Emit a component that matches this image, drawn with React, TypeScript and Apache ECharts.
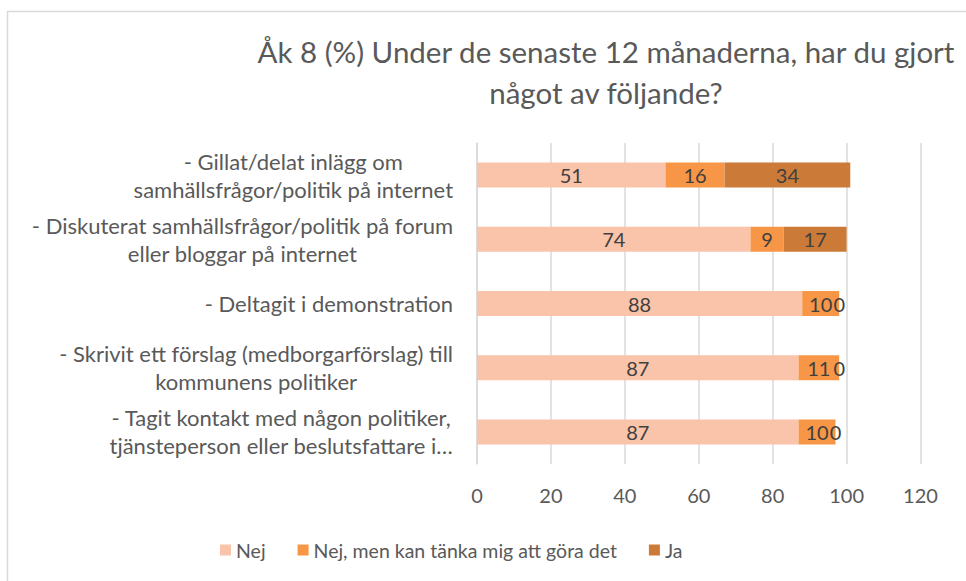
import React, { useEffect, useRef } from "react";
import * as echarts from "echarts";

const categories = [
  "- Gillat/delat inlägg om\nsamhällsfrågor/politik på internet",
  "- Diskuterat samhällsfrågor/politik på forum\neller bloggar på internet",
  "- Deltagit i demonstration",
  "- Skrivit ett förslag (medborgarförslag) till\nkommunens politiker",
  "- Tagit kontakt med någon politiker,\ntjänsteperson eller beslutsfattare i…",
];
const seriesNames = ["Nej", "Nej, men kan tänka mig att göra det", "Ja"];
const nej = [51, 74, 88, 87, 87];
const nejMen = [16, 9, 10, 11, 10];
const ja = [34, 17, 0, 0, 0];
const titleText = "Åk 8 (%) Under de senaste 12 månaderna, har du gjort\nnågot av följande?";

const FONT = "Lato";
const colors = ["#F9C4A9", "#F79646", "#CB7A38"];

export default function App() {
  const ref = useRef<HTMLDivElement>(null);
  useEffect(() => {
    document.body.style.margin = "0";
    const chart = echarts.init(ref.current!, null, { renderer: "svg" });
    const values = [nej, nejMen, ja];
    chart.setOption({
      animation: false,
      backgroundColor: "#ffffff",
      textStyle: { fontFamily: FONT },
      color: colors,
      graphic: [
        {
          type: "rect",
          shape: { x: 7.5, y: 11.5, width: 1000, height: 1000 },
          style: { fill: "none", stroke: "#D9D9D9", lineWidth: 1.5 },
          silent: true,
        },
        {
          type: "text",
          x: 606,
          y: 31,
          style: {
            text: titleText,
            textAlign: "center",
            fontFamily: FONT,
            fontSize: 29.5,
            lineHeight: 41,
            fill: "#595959",
          },
        },
      ],
      legend: {
        left: 215,
        top: 535,
        icon: "rect",
        itemWidth: 11,
        itemHeight: 11,
        itemGap: 32,
        textStyle: { fontSize: 19.5, color: "#595959", fontFamily: FONT },
        data: seriesNames,
      },
      grid: { left: 477, right: 45.5, top: 143, bottom: 117, containLabel: false },
      xAxis: {
        type: "value",
        min: 0,
        max: 120,
        interval: 20,
        axisLine: { show: false },
        axisTick: { show: false },
        splitLine: { lineStyle: { color: "#D9D9D9", width: 1.5 } },
        axisLabel: { fontSize: 20, color: "#595959", margin: 21, fontFamily: FONT },
      },
      yAxis: {
        type: "category",
        inverse: true,
        data: categories,
        axisLine: { show: true, lineStyle: { color: "#D9D9D9", width: 1.5 } },
        axisTick: { show: false },
        axisLabel: {
          margin: 24,
          formatter: (v: string) =>
            v.split("\n").map((s) => `{c|${s}}`).join("\n"),
          rich: {
            c: {
              align: "center",
              fontSize: 22,
              lineHeight: 28,
              color: "#595959",
              fontFamily: FONT,
            },
          },
        },
      },
      series: seriesNames.map((name, i) => ({
        name,
        type: "bar",
        stack: "total",
        barWidth: 25,
        data: values[i],
        itemStyle: { color: colors[i] },
        label: {
          show: true,
          position: "inside",
          color: "#404040",
          fontSize: 20,
          fontFamily: FONT,
        },
      })),
    });
    return () => chart.dispose();
  }, []);
  return (
    <div
      ref={ref}
      style={{ position: "absolute", left: 0, top: 0, width: 966, height: 581 }}
    />
  );
}
